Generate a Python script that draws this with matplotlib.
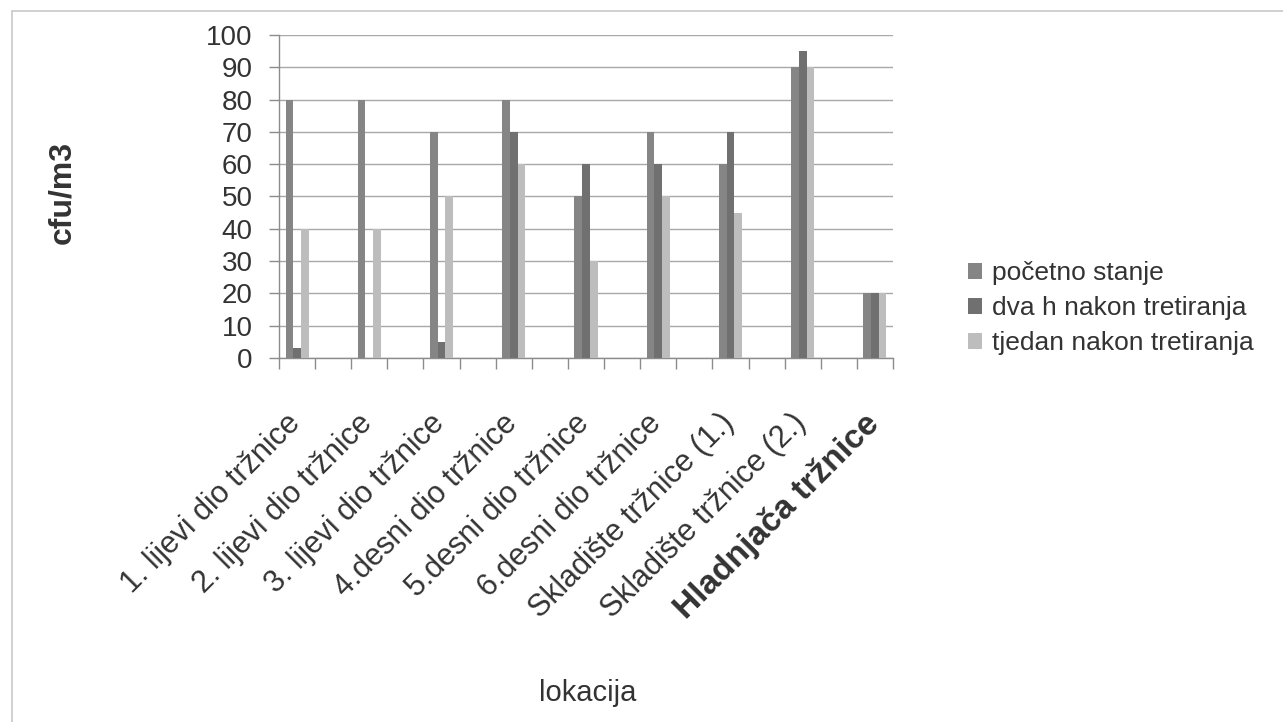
import numpy as np
import matplotlib
matplotlib.use("Agg")
import matplotlib.pyplot as plt
import matplotlib.transforms as mtransforms
from matplotlib.patches import Rectangle, Patch

plt.rcParams['font.family'] = ['Liberation Sans', 'DejaVu Sans']

# 17 category slots in the source sheet (every other one is blank)
categories = ["1. lijevi dio tržnice", "", "2. lijevi dio tržnice", "",
              "3. lijevi dio tržnice", "", "4.desni dio tržnice", "",
              "5.desni dio tržnice", "", "6.desni dio tržnice", "",
              "Skladište tržnice (1.)", "", "Skladište tržnice (2.)", "",
              "Hladnjača tržnice"]
pocetno = [80, 0, 80, 0, 70, 0, 80, 0, 50, 0, 70, 0, 60, 0, 90, 0, 20]
dva_h = [3, 0, 0, 0, 5, 0, 70, 0, 60, 0, 60, 0, 70, 0, 95, 0, 20]
tjedan = [40, 0, 40, 0, 50, 0, 60, 0, 30, 0, 50, 0, 45, 0, 90, 0, 20]
series_names = ["početno stanje", "dva h nakon tretiranja", "tjedan nakon tretiranja"]
y_ticks = [0, 10, 20, 30, 40, 50, 60, 70, 80, 90, 100]

colors = ["#858585", "#707070", "#bdbdbd"]

fig = plt.figure(figsize=(12.83, 7.22), dpi=100)
ax = fig.add_axes([279 / 1283, 1 - 358 / 722, (893 - 279) / 1283, (358 - 35) / 722])

x = np.arange(len(categories))
w = 0.213
for i, (vals, c) in enumerate(zip([pocetno, dva_h, tjedan], colors)):
    ax.bar(x + (i - 1) * w, vals, width=w, color=c, zorder=3, linewidth=0)

ax.set_xlim(-0.5, len(categories) - 0.5)
ax.set_ylim(0, 100)
ax.set_yticks(y_ticks)
ax.yaxis.grid(True, color="#a8a8a8", linewidth=1.0, zorder=0)

for s in ["top", "right"]:
    ax.spines[s].set_visible(False)
for s in ["left", "bottom"]:
    ax.spines[s].set_color("#8c8c8c")
    ax.spines[s].set_linewidth(1.0)

ax.tick_params(axis="y", labelsize=20, colors="#8c8c8c", labelcolor="#333333",
               length=7, width=1, pad=12)
ax.set_yticklabels([str(v) for v in y_ticks])

# boundary tick marks between category slots
ax.set_xticks([])
ax.set_xticks(np.arange(-0.5, len(categories), 1.0), minor=True)
ax.tick_params(axis="x", which="minor", length=8, width=1, colors="#8c8c8c")

# rotated category labels, anchored below each slot centre
lab_tr = mtransforms.offset_copy(ax.get_xaxis_transform(), fig=fig,
                                 x=-12, y=-50, units="dots")
for xi, name in zip(x, categories):
    if not name:
        continue
    bold = name.startswith("Hladnja")
    ax.text(xi, 0, name, transform=lab_tr, rotation=45, rotation_mode="anchor",
            ha="right", va="top", fontsize=24 if bold else 22,
            fontweight="bold" if bold else "normal", color="#333333")

fig.text(62 / 1283, 1 - 192 / 722, "cfu/m3", rotation=90, fontsize=23,
         fontweight="bold", color="#333333", ha="center", va="center")
fig.text(588 / 1283, 1 - 693 / 722, "lokacija", fontsize=21, color="#333333",
         ha="center", va="center")

handles = [Patch(facecolor=c, edgecolor="none") for c in colors]
fig.legend(handles, series_names, loc="center left",
           bbox_to_anchor=(944 / 1283, 1 - 308 / 722), frameon=False,
           fontsize=19, handlelength=0.55, handleheight=0.55,
           handletextpad=0.35, labelspacing=0.42, labelcolor="#333333")

fig.patches.append(Rectangle((12 / 1283, -0.05), 1.2, 1.05 - 11 / 722,
                             transform=fig.transFigure, fill=False,
                             edgecolor="#c8c8c8", linewidth=1.2))

fig.savefig("out.png", dpi=100)
